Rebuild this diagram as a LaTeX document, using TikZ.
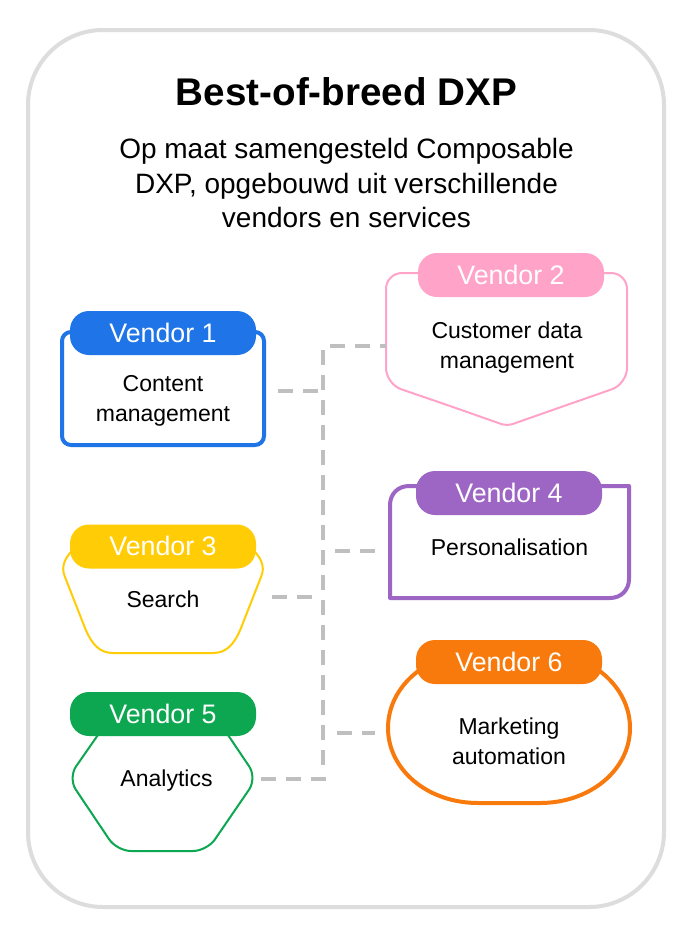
\documentclass[tikz,border=0pt]{standalone}
\usepackage{fontspec}
\setmainfont{Liberation Sans}
\definecolor{cblue}{HTML}{1F74E8}
\definecolor{cyellow}{HTML}{FFCC05}
\definecolor{cgreen}{HTML}{0CA750}
\definecolor{cpink}{HTML}{FFA3C8}
\definecolor{cpurple}{HTML}{9E66C4}
\definecolor{corange}{HTML}{F97A0C}
\definecolor{cdash}{HTML}{BFBFBF}
\definecolor{cframe}{HTML}{DDDDDD}
\tikzset{
  x=1pt,y=-1pt,
  frame/.style={draw=cframe,line width=4pt,fill=white,rounded corners=75pt},
  pill/.style={rounded corners=19pt,minimum width=186pt,minimum height=44pt,inner sep=0pt,text=white,font=\fontsize{26.8}{30}\selectfont},
  body/.style={inner sep=0pt,align=center,font=\fontsize{23}{30}\selectfont,text=black},
  link/.style={draw=cdash,line width=4pt,dash pattern=on 15pt off 10pt},
  shapeline/.style={line join=round,fill=white}
}
\begin{document}
\begin{tikzpicture}
\useasboundingbox (0,0) rectangle (698,937);
\fill[white] (0,0) rectangle (698,937);
\draw[frame] (28,30) rectangle (664,907);
\node[inner sep=0pt,font=\fontsize{38.6}{44}\bfseries\selectfont] (title) at (346.5,92) {Best-of-breed DXP};
\node[inner sep=0pt,align=center,font=\fontsize{28}{34.5}\selectfont] (sub) at (346.5,183) {Op maat samengesteld Composable\\DXP, opgebouwd uit verschillende\\vendors en services};

% anchors for the connectors
\coordinate (trunktop) at (323,350);
\coordinate (trunkbot) at (323,766);
\coordinate (r2) at (330,346);
\coordinate (r2e) at (386,346);
\coordinate (r1) at (278,391);
\coordinate (r1e) at (320,391);
\coordinate (r3) at (272,597);
\coordinate (r3e) at (313,597);
\coordinate (r5) at (261,779);
\coordinate (r5e) at (326,779);
\coordinate (r4) at (335,551);
\coordinate (r4e) at (375,551);
\coordinate (r6) at (337,733);
\coordinate (r6e) at (375,733);

% shapes
\draw[shapeline,draw=cblue,line width=4pt,rounded corners=9pt] (62,332) rectangle (264,445);
\draw[shapeline,draw=cyellow,line width=2pt] (75,548) .. controls (66,556) and (60,566) .. (65,577) -- (85,628) .. controls (92,645) and (100,653) .. (113,653) -- (213,653) .. controls (226,653) and (234,645) .. (241,628) -- (261,577) .. controls (266,566) and (260,556) .. (251,548);
\draw[shapeline,draw=cgreen,line width=2pt,rounded corners=14pt] (100,732) -- (68,778) -- (117,851) -- (207,851) -- (257,778) -- (226,732);
\draw[shapeline,draw=cpink,line width=2pt,rounded corners=16pt] (430,273) -- (386,273) -- (386,384) -- (450,406);
\draw[draw=cpink,line width=2pt,line join=round,rounded corners=6pt] (450,406) -- (507,426) -- (564,406);
\draw[draw=cpink,line width=2pt,rounded corners=16pt] (564,406) -- (627,384) -- (627,273) -- (590,273);
\draw[shapeline,draw=cpurple,line width=4pt] (430,486) -- (409,486) .. controls (398,486) and (390,494) .. (390,505) -- (390,598) -- (610,598) .. controls (621,598) and (629,590) .. (629,579) -- (629,486) -- (590,486);
\draw[shapeline,draw=corange,line width=4pt] (388,728) .. controls (388,686) and (428,652) .. (478,652) -- (540,652) .. controls (590,652) and (630,686) .. (630,728) .. controls (630,770) and (590,803) .. (540,803) -- (478,803) .. controls (428,803) and (388,770) .. (388,728) -- cycle;

% pills
\node[pill,fill=cblue] (v1) at (163,333) {Vendor 1};
\node[pill,fill=cyellow] (v3) at (163,546.5) {\raisebox{1pt}{Vendor 3}};
\node[pill,fill=cgreen] (v5) at (163,714) {Vendor 5};
\node[pill,fill=cpink] (v2) at (511,275) {\raisebox{1pt}{Vendor 2}};
\node[pill,fill=cpurple] (v4) at (509,493) {\raisebox{1pt}{Vendor 4}};
\node[pill,fill=corange] (v6) at (509,662) {Vendor 6};

% body texts
\node[body] (b1) at (163,401) {Content\\management};
\node[body] (b3) at (163,599) {Search};
\node[body] (b5) at (166.5,781) {Analytics};
\node[body] (b2) at (507,348) {Customer data\\management};
\node[body] (b4) at (509.5,547) {Personalisation};
\node[body] (b6) at (509,741) {Marketing\\automation};

% connectors
\draw[link] (r2) -- (r2e);
\draw[link] (trunktop) -- (trunkbot);
\draw[link] (r1) -- (r1e);
\draw[link] (r3) -- (r3e);
\draw[link] (r5) -- (r5e);
\draw[link] (r4) -- (r4e);
\draw[link] (r6) -- (r6e);
\end{tikzpicture}
\end{document}
